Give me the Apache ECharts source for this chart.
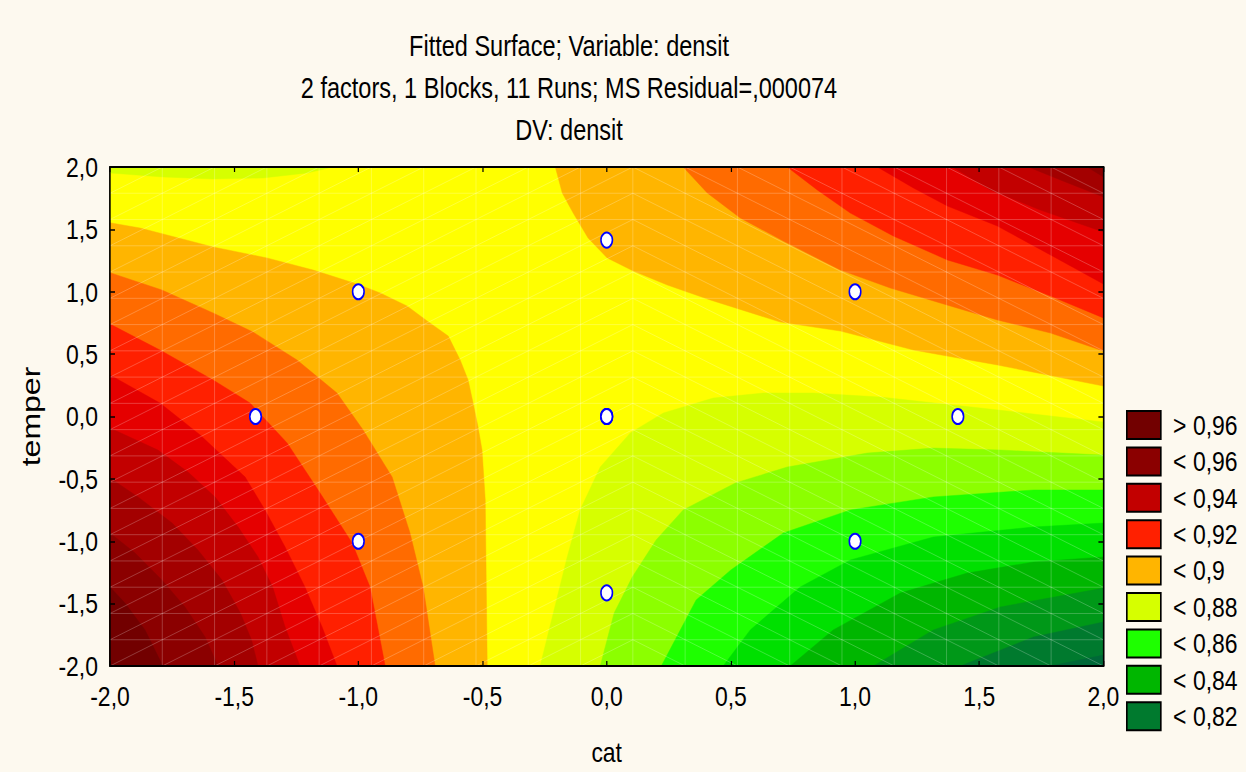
<!DOCTYPE html>
<html>
<head>
<meta charset="utf-8">
<script src="https://cdn.jsdelivr.net/npm/echarts@6/dist/echarts.min.js"></script>
<style>
html, body { margin: 0; padding: 0; background: #fdf9ef; overflow: hidden; width: 1246px; height: 772px; }
/* la gráfica original está comprimida en horizontal: se dibuja ancha y se escala */
#superficie { height: 772px; transform-origin: 0 0; }
</style>
</head>
<body>
<div id="superficie"></div>
<script>
// Puntos del diseño (11 corridas)
var corridasCat = [-1, 1, -1, 1, -1.414, 1.414, 0, 0, 0, 0, 0];
var corridasTemper = [-1, -1, 1, 1, 0, 0, -1.414, 1.414, 0, 0, 0];

var etiquetasLeyenda = ['> 0,96', '< 0,96', '< 0,94', '< 0,92', '< 0,9', '< 0,88', '< 0,86', '< 0,84', '< 0,82'];

// Isolíneas [cat, temper]
// rama inferior izquierda (niveles altos)
var iso089inf = [[-2, 1.553], [-1.879, 1.511], [-1.585, 1.359], [-1.368, 1.271], [-1.182, 1.174], [-1.005, 1.062], [-0.912, 0.99], [-0.804, 0.886], [-0.723, 0.766], [-0.638, 0.645], [-0.59, 0.453], [-0.558, 0.293], [-0.538, 0.108], [-0.518, -0.084], [-0.502, -0.269], [-0.489, -0.669], [-0.481, -2]];
var iso090inf = [[-2, 1.153], [-1.791, 1.014], [-1.585, 0.83], [-1.424, 0.677], [-1.247, 0.453], [-1.086, 0.188], [-0.981, -0.108], [-0.864, -0.485], [-0.792, -0.934], [-0.739, -1.367], [-0.691, -2]];
var iso091inf = [[-2, 0.741], [-1.799, 0.533], [-1.585, 0.293], [-1.436, 0.108], [-1.287, -0.212], [-1.162, -0.589], [-1.025, -1.014], [-0.953, -1.367], [-0.892, -2]];
var iso092inf = [[-2, 0.333], [-1.799, 0.108], [-1.637, -0.148], [-1.456, -0.485], [-1.376, -0.749], [-1.295, -1.046], [-1.215, -1.367], [-1.146, -1.687], [-1.086, -2]];
var iso093inf = [[-2, -0.092], [-1.807, -0.269], [-1.686, -0.445], [-1.577, -0.645], [-1.484, -0.886], [-1.404, -1.126], [-1.345, -1.367], [-1.295, -1.687], [-1.235, -2]];
var iso094inf = [[-2, -0.493], [-1.887, -0.645], [-1.75, -0.854], [-1.646, -1.07], [-1.549, -1.311], [-1.475, -1.575], [-1.43, -1.792], [-1.404, -2]];
var iso095inf = [[-2, -0.934], [-1.899, -1.094], [-1.791, -1.311], [-1.698, -1.527], [-1.617, -1.768], [-1.565, -2]];
var iso096inf = [[-2, -1.367], [-1.94, -1.495], [-1.859, -1.711], [-1.787, -2]];

// rama superior derecha (niveles altos)
var iso089sup = [[-0.207, 2], [-0.179, 1.792], [-0.135, 1.631], [-0.075, 1.431], [0.002, 1.271], [0.107, 1.166], [0.244, 1.054], [0.417, 0.934], [0.699, 0.757], [0.941, 0.685], [1.235, 0.533], [1.573, 0.413], [2, 0.244]];
var iso090sup = [[0.308, 2], [0.405, 1.792], [0.538, 1.591], [0.711, 1.407], [0.941, 1.174], [1.142, 1.03], [1.343, 0.91], [1.573, 0.774], [1.787, 0.669], [2, 0.525]];
var iso091sup = [[0.727, 2], [0.848, 1.816], [0.981, 1.631], [1.154, 1.447], [1.372, 1.255], [1.573, 1.134], [1.787, 0.966], [2, 0.79]];
var iso092sup = [[1.09, 2], [1.235, 1.832], [1.372, 1.687], [1.573, 1.527], [1.787, 1.295], [2, 1.062]];
var iso093sup = [[1.392, 2], [1.545, 1.816], [1.746, 1.655], [2, 1.479]];
var iso094sup = [[1.698, 2], [1.827, 1.896], [2, 1.76]];
var iso095sup = [[1.935, 2], [2, 1.92]];

// niveles bajos (esquina superior izquierda y zona inferior derecha)
var iso088izq = [[-2, 1.952], [-1.787, 1.92], [-1.585, 1.904], [-1.384, 1.912], [-1.206, 1.952], [-1.102, 2]];
var iso088 = [[-0.268, -2], [-0.215, -1.575], [-0.159, -1.126], [-0.107, -0.749], [-0.026, -0.405], [0.095, -0.132], [0.228, 0.028], [0.429, 0.148], [0.63, 0.188], [0.832, 0.188], [1.102, 0.156], [1.505, 0.068], [2, -0.044]];
var iso087 = [[-0.026, -2], [0.03, -1.575], [0.103, -1.287], [0.199, -0.99], [0.308, -0.749], [0.518, -0.533], [0.727, -0.405], [1.049, -0.293], [1.315, -0.253], [1.585, -0.269], [2, -0.309]];
var iso086 = [[0.22, -2], [0.36, -1.471], [0.5, -1.23], [0.711, -0.934], [0.981, -0.749], [1.315, -0.645], [1.718, -0.589], [2, -0.589]];
var iso085 = [[0.469, -2], [0.578, -1.711], [0.779, -1.367], [0.981, -1.15], [1.315, -0.966], [1.718, -0.886], [2, -0.854]];
var iso084 = [[0.739, -2], [0.912, -1.711], [1.182, -1.415], [1.452, -1.255], [1.718, -1.166], [2, -1.126]];
var iso083 = [[1.074, -2], [1.315, -1.711], [1.585, -1.527], [2, -1.375]];
var iso082 = [[1.424, -2], [1.718, -1.768], [2, -1.647]];
var iso081 = [[1.787, -2], [2, -1.912]];

var colores = {
    c096: '#720000', c095: '#8b0000', c094: '#a30000', c093: '#c20000', c092: '#e50000',
    c091: '#ff2000', c090: '#ff6b00', c089: '#ffb500', c088: '#ffff00', c087: '#d6ff00',
    c086: '#8cff00', c085: '#1eff00', c084: '#00e000', c083: '#00b600', c082: '#009818',
    c081: '#007a2e', c080: '#006838'
};
var coloresLeyenda = ['#720000', '#8b0000', '#c20000', '#ff2000', '#ffb500', '#d6ff00', '#1eff00', '#00b600', '#007a2e'];

var ESQ_II = [-2, -2], ESQ_SD = [2, 2], ESQ_ID = [2, -2], ESQ_SI = [-2, 2];

// capas pintadas en orden (cada una tapa a la anterior)
var capas = [
    { linea: [[-2, -2], [2, -2], [2, 2]], esquina: ESQ_SI, color: colores.c088 },
    { linea: iso089inf, esquina: ESQ_II, color: colores.c089 },
    { linea: iso090inf, esquina: ESQ_II, color: colores.c090 },
    { linea: iso091inf, esquina: ESQ_II, color: colores.c091 },
    { linea: iso092inf, esquina: ESQ_II, color: colores.c092 },
    { linea: iso093inf, esquina: ESQ_II, color: colores.c093 },
    { linea: iso094inf, esquina: ESQ_II, color: colores.c094 },
    { linea: iso095inf, esquina: ESQ_II, color: colores.c095 },
    { linea: iso096inf, esquina: ESQ_II, color: colores.c096 },
    { linea: iso089sup, esquina: ESQ_SD, color: colores.c089 },
    { linea: iso090sup, esquina: ESQ_SD, color: colores.c090 },
    { linea: iso091sup, esquina: ESQ_SD, color: colores.c091 },
    { linea: iso092sup, esquina: ESQ_SD, color: colores.c092 },
    { linea: iso093sup, esquina: ESQ_SD, color: colores.c093 },
    { linea: iso094sup, esquina: ESQ_SD, color: colores.c094 },
    { linea: iso095sup, esquina: ESQ_SD, color: colores.c095 },
    { linea: iso088izq, esquina: ESQ_SI, color: colores.c087 },
    { linea: iso088, esquina: ESQ_ID, color: colores.c087 },
    { linea: iso087, esquina: ESQ_ID, color: colores.c086 },
    { linea: iso086, esquina: ESQ_ID, color: colores.c085 },
    { linea: iso085, esquina: ESQ_ID, color: colores.c084 },
    { linea: iso084, esquina: ESQ_ID, color: colores.c083 },
    { linea: iso083, esquina: ESQ_ID, color: colores.c082 },
    { linea: iso082, esquina: ESQ_ID, color: colores.c081 },
    { linea: iso081, esquina: ESQ_ID, color: colores.c080 }
];

var FUENTE = "'Liberation Sans', Arial, sans-serif";
var NODOS_MALLA = 20;
var ESCALA_X = 0.82;

// convierte una medida horizontal de la imagen final al lienzo sin escalar
function px(v) {
    return v / ESCALA_X;
}

function formatoComa(v) {
    return v.toFixed(1).replace('.', ',');
}

function dibujarCapa(params, api) {
    var capa = capas[params.dataIndex];
    var puntos = capa.linea.map(function (p) { return api.coord(p); });
    puntos.push(api.coord(capa.esquina));
    return {
        type: 'polygon',
        shape: { points: puntos },
        style: { fill: capa.color, stroke: capa.color, lineWidth: 0.5 }
    };
}

// malla triangular clara encima de las bandas
function dibujarMalla(params, api) {
    var hijos = [];
    var estilo = { stroke: 'rgba(255,255,255,0.25)', lineWidth: 1 };
    var paso = 4 / (NODOS_MALLA - 1);
    for (var i = 1; i < NODOS_MALLA - 1; i++) {
        var v = -2 + i * paso;
        var a = api.coord([v, -2]), b = api.coord([v, 2]);
        hijos.push({ type: 'line', shape: { x1: a[0], y1: a[1], x2: b[0], y2: b[1] }, style: estilo });
        var c = api.coord([-2, v]), d = api.coord([2, v]);
        hijos.push({ type: 'line', shape: { x1: c[0], y1: c[1], x2: d[0], y2: d[1] }, style: estilo });
    }
    for (var i = 0; i < NODOS_MALLA - 1; i++) {
        for (var j = 0; j < NODOS_MALLA - 1; j++) {
            var x0 = -2 + i * paso, x1 = x0 + paso;
            var y0 = -2 + j * paso, y1 = y0 + paso;
            var p, q;
            if (i < 10) { p = api.coord([x0, y0]); q = api.coord([x1, y1]); }
            else { p = api.coord([x0, y1]); q = api.coord([x1, y0]); }
            hijos.push({ type: 'line', shape: { x1: p[0], y1: p[1], x2: q[0], y2: q[1] }, style: estilo });
        }
    }
    return { type: 'group', children: hijos };
}

var contenedor = document.getElementById('superficie');
contenedor.style.width = px(1246) + 'px';
contenedor.style.transform = 'scaleX(' + ESCALA_X + ')';
var chart = echarts.init(contenedor, null, { renderer: 'svg' });

var ejeBase = {
    type: 'value', min: -2, max: 2, interval: 0.5, z: 10,
    axisLine: { show: true, onZero: false, lineStyle: { color: '#000', width: 2 } },
    axisTick: { show: true, inside: true, length: 5, lineStyle: { color: '#000', width: 1.5 } },
    splitLine: { show: false }
};

var series = [
    {
        type: 'custom', name: 'bandas', renderItem: dibujarCapa, silent: true, z: 2,
        data: capas.map(function (c) { return c.linea[0]; })
    },
    {
        type: 'custom', name: 'malla', renderItem: dibujarMalla, silent: true, z: 3,
        data: [[0, 0]]
    },
    {
        type: 'scatter', name: 'corridas', z: 5, symbol: 'circle', symbolSize: [px(11.5), 15],
        itemStyle: { color: '#ffffff', borderColor: '#0000ff', borderWidth: 2, opacity: 1 },
        data: corridasCat.map(function (x, i) { return [x, corridasTemper[i]]; })
    }
];
etiquetasLeyenda.forEach(function (nombre, i) {
    series.push({ type: 'scatter', name: nombre, data: [], itemStyle: { color: coloresLeyenda[i], opacity: 1 } });
});

var estiloTitulo = { fontFamily: FUENTE, fontSize: 28.7, fontWeight: 'normal', color: '#000' };

var option = {
    backgroundColor: '#fdf9ef',
    animation: false,
    textStyle: { fontFamily: FUENTE },
    title: [
        { text: 'Fitted Surface; Variable: densit', left: px(569), top: 32, textAlign: 'center', padding: 0, textStyle: estiloTitulo },
        { text: '2 factors, 1 Blocks, 11 Runs; MS Residual=,000074', left: px(569), top: 74, textAlign: 'center', padding: 0, textStyle: estiloTitulo },
        { text: 'DV: densit', left: px(569), top: 116, textAlign: 'center', padding: 0, textStyle: estiloTitulo }
    ],
    grid: { left: px(110), right: px(143), top: 167, bottom: 106, outerBoundsMode: 'none' },
    legend: {
        orient: 'vertical', left: px(1126), top: 410, padding: 0,
        itemWidth: px(34), itemHeight: 28, itemGap: 6.4, icon: 'rect',
        itemStyle: { borderColor: '#000', borderWidth: 2 },
        textStyle: { fontFamily: FUENTE, fontSize: 28, lineHeight: 28, color: '#000', padding: [0, 0, 0, 10] },
        data: etiquetasLeyenda,
        selectedMode: false
    },
    xAxis: [
        Object.assign({}, ejeBase, {
            position: 'bottom', name: 'cat', nameLocation: 'middle', nameGap: 72,
            nameTextStyle: { fontFamily: FUENTE, fontSize: 28, color: '#000' },
            axisLabel: { formatter: formatoComa, fontSize: 28, color: '#000', margin: 16, fontFamily: FUENTE }
        }),
        Object.assign({}, ejeBase, { position: 'top', axisLabel: { show: false } })
    ],
    yAxis: [
        Object.assign({}, ejeBase, {
            position: 'left', name: 'temper', nameLocation: 'middle', nameGap: 80,
            axisTick: { show: true, inside: true, length: px(5), lineStyle: { color: '#000', width: 1.5 } },
            nameTextStyle: { fontFamily: FUENTE, fontSize: 32, color: '#000' },
            axisLabel: { formatter: formatoComa, fontSize: 28, color: '#000', margin: px(12), fontFamily: FUENTE }
        }),
        Object.assign({}, ejeBase, {
            position: 'right', axisLabel: { show: false },
            axisTick: { show: true, inside: true, length: px(5), lineStyle: { color: '#000', width: 1.5 } }
        })
    ],
    series: series
};

chart.setOption(option);
</script>
</body>
</html>
